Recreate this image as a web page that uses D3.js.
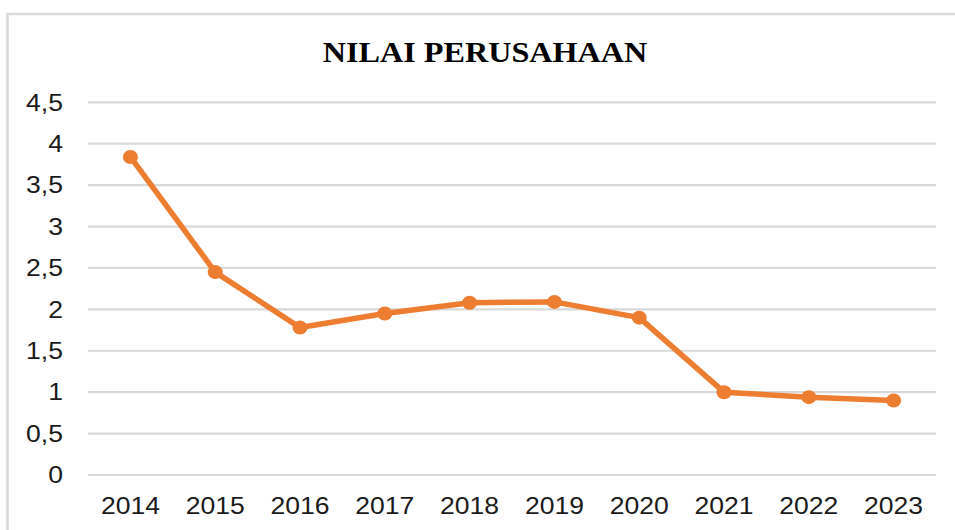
<!DOCTYPE html>
<html><head><meta charset="utf-8">
<script src="https://cdn.jsdelivr.net/npm/d3@7"></script>
<style>body{margin:0;background:#fff}svg{display:block}</style>
</head><body>
<svg id="c" width="955" height="530"></svg>
<script>
const title = "NILAI PERUSAHAAN";
const years = ["2014","2015","2016","2017","2018","2019","2020","2021","2022","2023"];
const values = [3.84, 2.45, 1.78, 1.95, 2.08, 2.09, 1.90, 1.00, 0.94, 0.90];
const yTicks = [0, 0.5, 1, 1.5, 2, 2.5, 3, 3.5, 4, 4.5];

(function () {
const svg = d3.select("#c");
const sx = 1.13; // horizontal stretch of the reference
const pLeft = 88, pRight = 936, pTop = 102.3, pBottom = 475;

// chart frame
svg.append("rect").attr("x", 7.5).attr("y", 14).attr("width", 960).attr("height", 530)
  .attr("fill", "#fff").attr("stroke", "#d9d9d9").attr("stroke-width", 2.5);

const x = d3.scaleBand().domain(years).range([pLeft, pRight]).padding(0);
const y = d3.scaleLinear().domain([0, 4.5]).range([pBottom, pTop]);

// gridlines
svg.append("g").selectAll("line").data(yTicks).join("line")
  .attr("x1", pLeft).attr("x2", pRight)
  .attr("y1", d => y(d)).attr("y2", d => y(d))
  .attr("stroke", "#d9d9d9").attr("stroke-width", 2.2);

const fmt = d => String(d).replace(".", ",");

// y labels
svg.append("g").selectAll("g").data(yTicks).join("g")
  .attr("transform", d => `translate(63,${y(d)}) scale(${sx},1)`)
  .append("text").attr("text-anchor", "end").attr("dy", "0.35em")
  .attr("font-family", "Liberation Sans, Arial, sans-serif").attr("font-size", 23.5)
  .attr("fill", "#1a1a1a").text(fmt);

// x labels
svg.append("g").selectAll("g").data(years).join("g")
  .attr("transform", d => `translate(${x(d) + x.bandwidth()/2},514) scale(${sx},1)`)
  .append("text").attr("text-anchor", "middle")
  .attr("font-family", "Liberation Sans, Arial, sans-serif").attr("font-size", 23.5)
  .attr("fill", "#1a1a1a").text(d => d);

// title
svg.append("g").attr("transform", `translate(485,62) scale(${sx},1)`)
  .append("text").attr("text-anchor", "middle")
  .attr("font-family", "Liberation Serif, Times New Roman, serif").attr("font-weight", "bold")
  .attr("font-size", 28.5).attr("fill", "#000").text(title);

const cx = (d, i) => x(years[i]) + x.bandwidth()/2;
const line = d3.line().x((d, i) => cx(d, i)).y(d => y(d));
svg.append("path").datum(values).attr("d", line)
  .attr("fill", "none").attr("stroke", "#ED7D31").attr("stroke-width", 5.5)
  .attr("stroke-linejoin", "round");

svg.append("g").selectAll("ellipse").data(values).join("ellipse")
  .attr("cx", (d, i) => cx(d, i)).attr("cy", d => y(d))
  .attr("rx", 7.5).attr("ry", 7)
  .attr("fill", "#ED7D31");
})();
</script>
</body></html>
